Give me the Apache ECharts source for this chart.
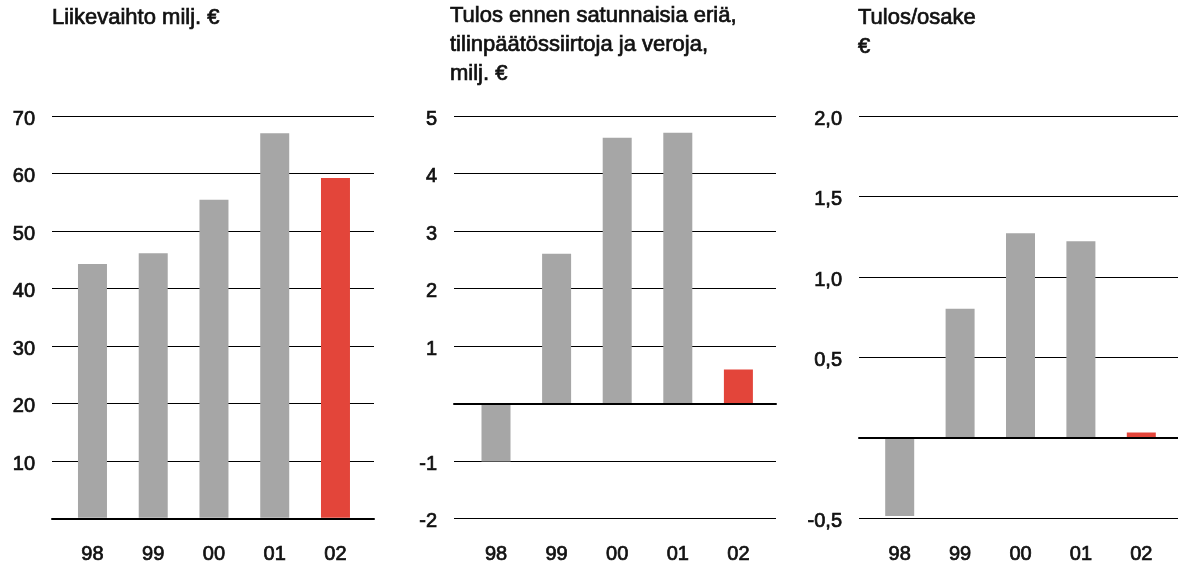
<!DOCTYPE html>
<html>
<head>
<meta charset="utf-8">
<script src="https://cdn.jsdelivr.net/npm/echarts@6/dist/echarts.min.js"></script>
<style>
html,body{margin:0;padding:0;background:#fff;}
#chart{width:1178px;height:565px;}
</style>
</head>
<body>
<div id="chart"></div>
<script>
// ---- data ----
const categories = ['98', '99', '00', '01', '02'];
const revenue = [44.2, 46.1, 55.4, 67.0, 59.2];
const profit = [-1.02, 2.60, 4.62, 4.71, 0.58];
const eps = [-0.49, 0.80, 1.27, 1.22, 0.03];
const titles = [
  'Liikevaihto milj. €',
  'Tulos ennen satunnaisia eriä,\ntilinpäätössiirtoja ja veroja,\nmilj. €',
  'Tulos/osake\n€'
];
const axisRanges = [
  { min: 0, max: 70, interval: 10, decimals: 0 },
  { min: -2, max: 5, interval: 1, decimals: 0 },
  { min: -0.5, max: 2.0, interval: 0.5, decimals: 1 }
];
const seriesValues = [revenue, profit, eps];
const highlightIndex = 4;

// ---- styling / layout ----
const FONT = 'Liberation Sans';
const INK = '#111';
const STROKE = 0.7;
const GRAY = '#a6a6a6';
const RED = '#e3453a';
const TOP = 116, HEIGHT = 402.5;
const layout = [
  { bgLeft: 52, bgWidth: 322, barLeft: 62.1, barWidth: 303.75, titleLeft: 52, titleTop: 3 },
  { bgLeft: 454, bgWidth: 322, barLeft: 465.7, barWidth: 303, titleLeft: 450, titleTop: 1 },
  { bgLeft: 859, bgWidth: 319, barLeft: 869.5, barWidth: 302, titleLeft: 858, titleTop: 3 }
];
const textBase = { fontFamily: FONT, fontWeight: 'normal', color: INK, textBorderColor: INK, textBorderWidth: STROKE };

const grid = [], xAxis = [], yAxis = [], series = [], title = [];
layout.forEach((L, i) => {
  const r = axisRanges[i];
  title.push({
    text: titles[i], left: L.titleLeft, top: L.titleTop, padding: 0,
    textStyle: Object.assign({}, textBase, { fontSize: 22, lineHeight: 29 })
  });
  grid.push({ left: L.bgLeft, top: TOP, width: L.bgWidth, height: HEIGHT, containLabel: false });
  grid.push({ left: L.barLeft, top: TOP, width: L.barWidth, height: HEIGHT, containLabel: false });
  // background axes: gridlines, y labels, zero line
  xAxis.push({
    type: 'value', gridIndex: 2 * i, min: 0, max: 1, z: 5,
    axisLine: { show: true, onZero: true, lineStyle: { color: '#000', width: 2 } },
    axisTick: { show: false }, axisLabel: { show: false }, splitLine: { show: false }
  });
  yAxis.push({
    type: 'value', gridIndex: 2 * i, min: r.min, max: r.max, interval: r.interval,
    axisLine: { show: false }, axisTick: { show: false },
    splitLine: { show: true, lineStyle: { color: '#000', width: 1 } },
    axisLabel: Object.assign({}, textBase, {
      margin: 17, fontSize: 20,
      formatter: v => Math.abs(v) < 1e-9 ? '' : '{v|' + v.toFixed(r.decimals).replace('.', ',') + '}',
      rich: { v: Object.assign({}, textBase, { fontSize: 20, padding: [6, 0, 0, 0] }) }
    })
  });
  // bar axes
  xAxis.push({
    type: 'category', gridIndex: 2 * i + 1, data: categories,
    position: 'bottom',
    axisLine: { show: false, onZero: false }, axisTick: { show: false },
    axisLabel: Object.assign({}, textBase, { margin: 27, fontSize: 20 })
  });
  yAxis.push({
    type: 'value', gridIndex: 2 * i + 1, min: r.min, max: r.max, interval: r.interval, show: false
  });
  series.push({
    type: 'bar', xAxisIndex: 2 * i + 1, yAxisIndex: 2 * i + 1, barWidth: 29,
    data: seriesValues[i].map((v, k) => ({
      value: v, itemStyle: { color: k === highlightIndex ? RED : GRAY }
    }))
  });
});

const chart = echarts.init(document.getElementById('chart'), null, { renderer: 'canvas' });
chart.setOption({ animation: false, backgroundColor: '#fff', title, grid, xAxis, yAxis, series });
</script>
</body>
</html>
